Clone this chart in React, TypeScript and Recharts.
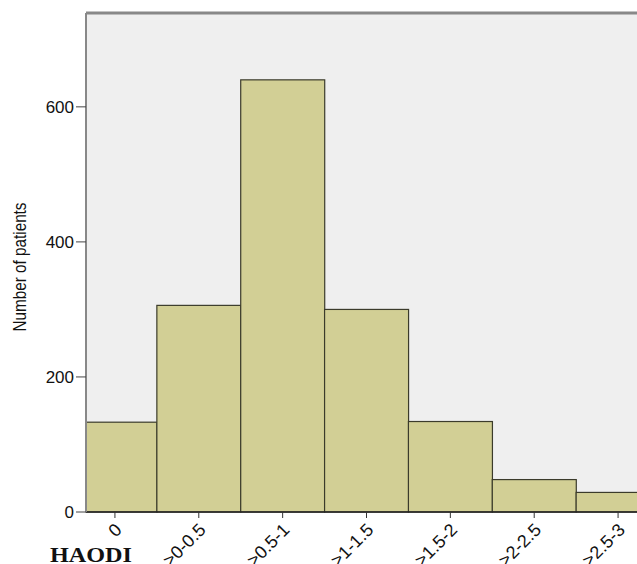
import { BarChart, Bar, XAxis, YAxis, CartesianGrid, ReferenceLine } from 'recharts';

const categories = ['0', '>0-0.5', '>0.5-1', '>1-1.5', '>1.5-2', '>2-2.5', '>2.5-3'];
const patients = [133, 306, 640, 300, 134, 48, 29];
const yTicks = [0, 200, 400, 600];
const yMax = 739;

const data = categories.map((range, i) => ({ range, patients: patients[i] }));

const tickFont = 'Arial, "Liberation Sans", sans-serif';
// left edge of the plot area (y axis width); the first band starts a bit before it
const PLOT_LEFT = 86;

function AngledTick({ x, y, payload }: any) {
  return (
    <g transform={`translate(${x + 8},${y + 11}) rotate(-45)`}>
      <text x={0} y={0} textAnchor="end" fontSize={18} fill="#111" fontFamily={tickFont}>
        {payload.value}
      </text>
    </g>
  );
}

// bars are cut off at the plot edge, like the original
function ClippedBar(props: any) {
  const { x, y, width, height, fill, stroke, strokeWidth } = props;
  const left = Math.max(x, PLOT_LEFT);
  const w = x + width - left;
  return <rect x={left} y={y} width={w} height={height} fill={fill} stroke={stroke} strokeWidth={strokeWidth} />;
}

function YLabel() {
  return (
    <text
      x={0}
      y={0}
      transform="translate(26,267) rotate(-90)"
      textAnchor="middle"
      fontSize={18}
      fill="#111"
      fontFamily={tickFont}
      textLength={129}
      lengthAdjust="spacingAndGlyphs"
    >
      Number of patients
    </text>
  );
}

export default function App() {
  return (
    <div style={{ position: 'absolute', left: 0, top: 0, width: 637, height: 564, overflow: 'hidden', background: '#fff' }}>
      <BarChart
        width={637}
        height={564}
        data={data}
        barCategoryGap={0}
        margin={{ top: 13, right: 0, bottom: 0, left: 0 }}
      >
        <CartesianGrid fill="#efefef" stroke="none" horizontal={false} vertical={false} />
        <Bar
          dataKey="patients"
          fill="#d2cf95"
          stroke="#3b3b2b"
          strokeWidth={1.2}
          shape={<ClippedBar />}
          isAnimationActive={false}
        />
        <XAxis
          dataKey="range"
          height={52}
          padding={{ left: -13, right: -23 }}
          tick={<AngledTick />}
          tickSize={6}
          tickLine={{ stroke: '#333' }}
          axisLine={{ stroke: '#222', strokeWidth: 1.5 }}
          interval={0}
        />
        <YAxis
          width={PLOT_LEFT}
          domain={[0, yMax]}
          ticks={yTicks}
          tickSize={10}
          tickLine={{ stroke: '#444' }}
          axisLine={{ stroke: '#888', strokeWidth: 2 }}
          tick={{ fontSize: 17, fill: '#111', fontFamily: tickFont }}
          label={{ content: () => <YLabel /> }}
        />
        <ReferenceLine y={yMax} stroke="#888" strokeWidth={3} />
      </BarChart>
      <svg width={160} height={40} style={{ position: 'absolute', left: 0, top: 530 }}>
        <text
          x={50}
          y={32}
          fontFamily='"Liberation Serif", "Times New Roman", serif'
          fontWeight="bold"
          fontSize={20}
          fill="#111"
          textLength={82}
          lengthAdjust="spacingAndGlyphs"
        >
          HAODI
        </text>
      </svg>
    </div>
  );
}
